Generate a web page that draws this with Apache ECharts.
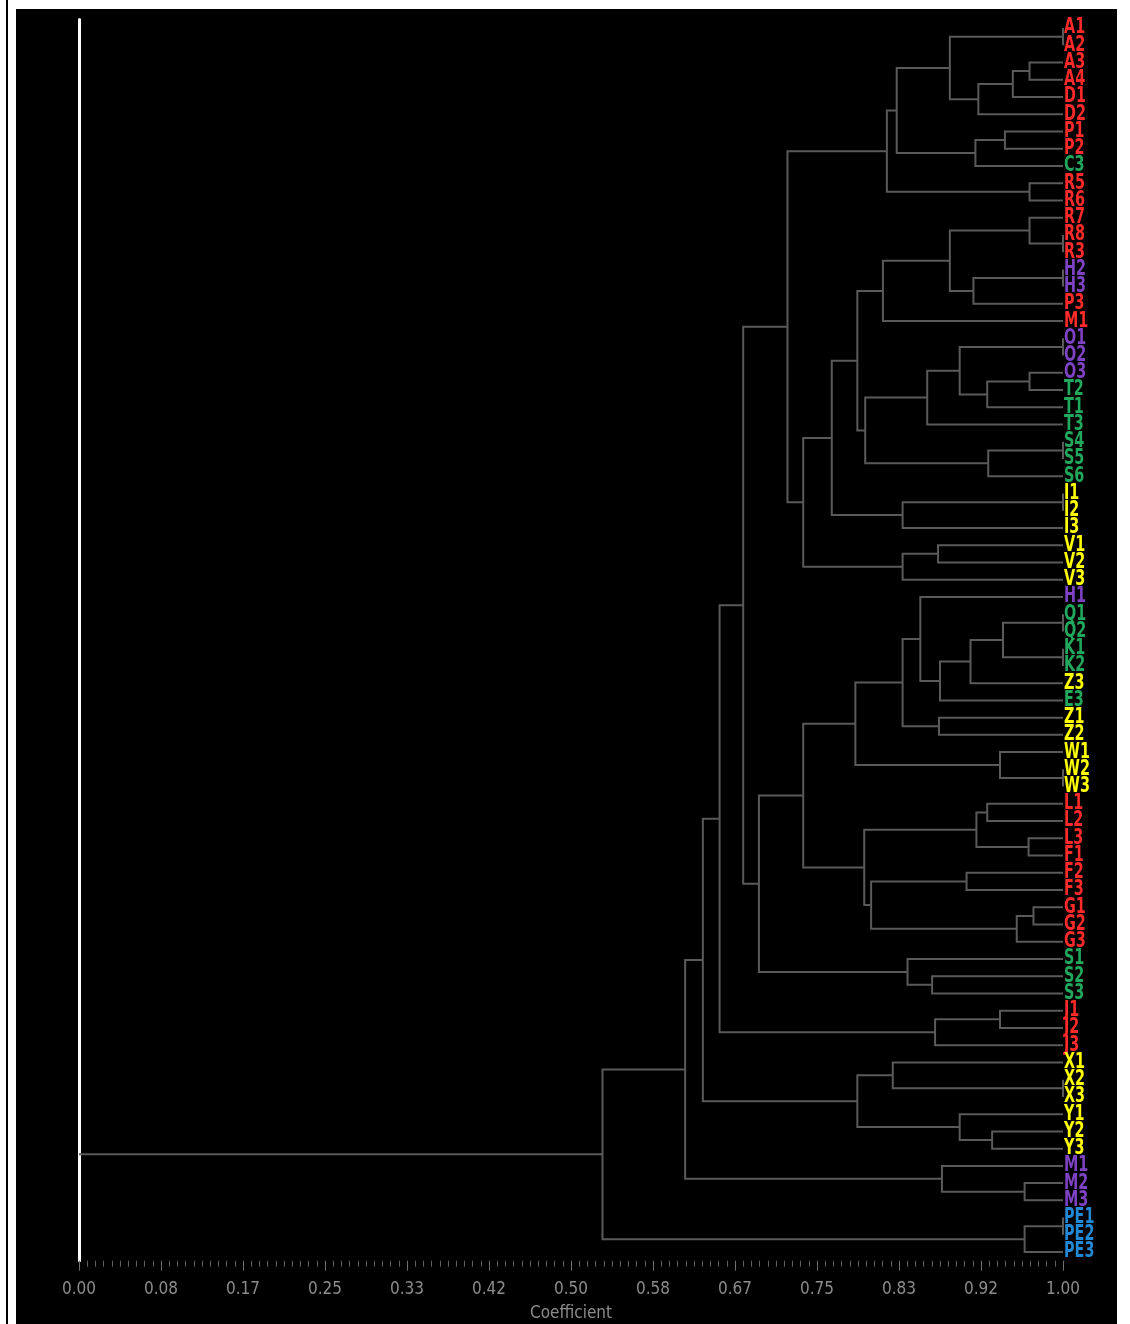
<!DOCTYPE html>
<html>
<head>
<meta charset="utf-8">
<script src="https://cdn.jsdelivr.net/npm/echarts@6/dist/echarts.min.js"></script>
<style>
html, body { margin: 0; padding: 0; background: #fff; }
#dendro { width: 1130px; height: 1324px; }
</style>
</head>
<body>
<div id="dendro"></div>
<script>
// leaves, top to bottom
var leafNames = [
  'A1', 'A2', 'A3', 'A4', 'D1', 'D2', 'P1', 'P2', 'C3', 'R5',
  'R6', 'R7', 'R8', 'R3', 'H2', 'H3', 'P3', 'M1', 'O1', 'O2',
  'O3', 'T2', 'T1', 'T3', 'S4', 'S5', 'S6', 'I1', 'I2', 'I3',
  'V1', 'V2', 'V3', 'H1', 'Q1', 'Q2', 'K1', 'K2', 'Z3', 'E3',
  'Z1', 'Z2', 'W1', 'W2', 'W3', 'L1', 'L2', 'L3', 'F1', 'F2',
  'F3', 'G1', 'G2', 'G3', 'S1', 'S2', 'S3', 'J1', 'J2', 'J3',
  'X1', 'X2', 'X3', 'Y1', 'Y2', 'Y3', 'M1', 'M2', 'M3', 'PE1',
  'PE2', 'PE3'
];
var leafGroups = [
  'r', 'r', 'r', 'r', 'r', 'r', 'r', 'r', 'g', 'r',
  'r', 'r', 'r', 'r', 'p', 'p', 'r', 'r', 'p', 'p',
  'p', 'g', 'g', 'g', 'g', 'g', 'g', 'y', 'y', 'y',
  'y', 'y', 'y', 'p', 'g', 'g', 'g', 'g', 'y', 'g',
  'y', 'y', 'y', 'y', 'y', 'r', 'r', 'r', 'r', 'r',
  'r', 'r', 'r', 'r', 'g', 'g', 'g', 'r', 'r', 'r',
  'y', 'y', 'y', 'y', 'y', 'y', 'p', 'p', 'p', 'b',
  'b', 'b'
];
var groupColors = { r: '#ff2a2a', g: '#22a85c', p: '#7e42c2', y: '#ffff00', b: '#2289d6' };

// [node, child, child, coefficient]; a number child is a leaf index
var merges = [
  ['a01', 0, 1, 1.00],
  ['a23', 2, 3, 0.966],
  ['a234', 'a23', 4, 0.949],
  ['a2345', 'a234', 5, 0.914],
  ['a05', 'a01', 'a2345', 0.885],
  ['a67', 6, 7, 0.941],
  ['a68', 'a67', 8, 0.911],
  ['a08', 'a05', 'a68', 0.831],
  ['a910', 9, 10, 0.966],
  ['a010', 'a08', 'a910', 0.821],
  ['b1213', 12, 13, 1.00],
  ['b1113', 11, 'b1213', 0.966],
  ['b1415', 14, 15, 1.00],
  ['b1416', 'b1415', 16, 0.909],
  ['b1116', 'b1113', 'b1416', 0.885],
  ['b1117', 'b1116', 17, 0.817],
  ['c1819', 18, 19, 1.00],
  ['c2021', 20, 21, 0.966],
  ['c2022', 'c2021', 22, 0.923],
  ['c1822', 'c1819', 'c2022', 0.895],
  ['c1823', 'c1822', 23, 0.862],
  ['c2425', 24, 25, 1.00],
  ['c2426', 'c2425', 26, 0.924],
  ['c1826', 'c1823', 'c2426', 0.799],
  ['b1126', 'b1117', 'c1826', 0.791],
  ['d2728', 27, 28, 1.00],
  ['d2729', 'd2728', 29, 0.837],
  ['b1129', 'b1126', 'd2729', 0.765],
  ['d3031', 30, 31, 0.873],
  ['d3032', 'd3031', 32, 0.837],
  ['b1132', 'b1129', 'd3032', 0.736],
  ['a032', 'a010', 'b1132', 0.720],
  ['e3435', 34, 35, 1.00],
  ['e3637', 36, 37, 1.00],
  ['e3437', 'e3435', 'e3637', 0.939],
  ['e3438', 'e3437', 38, 0.906],
  ['e3439', 'e3438', 39, 0.875],
  ['e3339', 33, 'e3439', 0.855],
  ['e4041', 40, 41, 0.874],
  ['e3341', 'e3339', 'e4041', 0.837],
  ['e4344', 43, 44, 1.00],
  ['e4244', 42, 'e4344', 0.936],
  ['e3344', 'e3341', 'e4244', 0.789],
  ['f4546', 45, 46, 0.923],
  ['f4748', 47, 48, 0.965],
  ['f4548', 'f4546', 'f4748', 0.912],
  ['f4950', 49, 50, 0.902],
  ['f5152', 51, 52, 0.970],
  ['f5153', 'f5152', 53, 0.953],
  ['f4953', 'f4950', 'f5153', 0.805],
  ['f4553', 'f4548', 'f4953', 0.798],
  ['e3353', 'e3344', 'f4553', 0.736],
  ['g5556', 55, 56, 0.867],
  ['g5456', 54, 'g5556', 0.842],
  ['e3356', 'e3353', 'g5456', 0.691],
  ['a056', 'a032', 'e3356', 0.675],
  ['h5758', 57, 58, 0.936],
  ['h5759', 'h5758', 59, 0.870],
  ['a059', 'a056', 'h5759', 0.651],
  ['i6162', 61, 62, 1.00],
  ['i6062', 60, 'i6162', 0.827],
  ['i6465', 64, 65, 0.928],
  ['i6365', 63, 'i6465', 0.895],
  ['i6065', 'i6062', 'i6365', 0.791],
  ['a065', 'a059', 'i6065', 0.634],
  ['j6768', 67, 68, 0.961],
  ['j6668', 66, 'j6768', 0.877],
  ['a068', 'a065', 'j6668', 0.616],
  ['k6970', 69, 70, 1.00],
  ['k6971', 'k6970', 71, 0.961],
  ['root', 'a068', 'k6971', 0.532]
];

var xTickLabels = ['0.00', '0.08', '0.17', '0.25', '0.33', '0.42', '0.50',
  '0.58', '0.67', '0.75', '0.83', '0.92', '1.00'];

// build the elbow segments from the merge list
var nodes = {};
var segs = [];
function where (c) {
  return typeof c === 'number' ? { h: 1, y: c } : nodes[c];
}
merges.forEach(function (m) {
  var a = where(m[1]);
  var b = where(m[2]);
  nodes[m[0]] = { h: m[3], y: (a.y + b.y) / 2 };
  segs.push({ coords: [[a.h, a.y], [m[3], a.y], [m[3], b.y], [b.h, b.y]] });
});
var root = nodes[merges[merges.length - 1][0]];
segs.push({ coords: [[root.h, root.y], [0, root.y]] });

var narrow = '"Liberation Sans Narrow", "DejaVu Sans Condensed", sans-serif';

var chart = echarts.init(document.getElementById('dendro'));
chart.setOption({
  animation: false,
  backgroundColor: 'transparent',
  graphic: [
    { type: 'rect', z: -100, shape: { x: 16, y: 9, width: 1101, height: 1320 }, style: { fill: '#000' } },
    { type: 'rect', z: -100, shape: { x: 6, y: 0, width: 2, height: 1324 }, style: { fill: '#000' } }
  ],
  grid: { left: 79, right: 67, top: 19.4, bottom: 63.3, containLabel: false, outerBoundsMode: 'none' },
  xAxis: {
    type: 'value',
    min: 0,
    max: 1,
    interval: 1 / 12,
    axisLine: { show: false, onZero: false },
    axisTick: { show: true, length: 10, lineStyle: { color: '#6e6e6e', width: 1 } },
    minorTick: { show: true, splitNumber: 10, length: 6, lineStyle: { color: '#5e5e5e' } },
    splitLine: { show: false },
    axisLabel: {
      color: '#8c8c8c',
      fontFamily: narrow,
      fontSize: 17,
      margin: 20,
      formatter: function (v) { return xTickLabels[Math.round(v * 12)]; }
    },
    name: 'Coefficient',
    nameLocation: 'middle',
    nameGap: 44,
    nameTextStyle: { color: '#8c8c8c', fontFamily: narrow, fontSize: 17 }
  },
  yAxis: {
    type: 'value',
    inverse: true,
    min: -0.5,
    max: 71.5,
    axisLine: { show: true, onZero: false, lineStyle: { color: '#ffffff', width: 3 } },
    axisTick: { show: false },
    axisLabel: { show: false },
    splitLine: { show: false }
  },
  series: [
    {
      type: 'lines',
      coordinateSystem: 'cartesian2d',
      polyline: true,
      silent: true,
      lineStyle: { color: '#5a5a5a', width: 2, opacity: 1 },
      data: segs
    },
    {
      type: 'custom',
      coordinateSystem: 'cartesian2d',
      clip: false,
      z: 5,
      data: leafNames.map(function (n, i) { return [1, i]; }),
      renderItem: function (params, api) {
        var p = api.coord([api.value(0), api.value(1)]);
        var i = params.dataIndex;
        return {
          type: 'text',
          x: p[0] + 1,
          y: p[1],
          scaleY: 1.3,
          style: {
            text: leafNames[i],
            fill: groupColors[leafGroups[i]],
            font: 'bold 16px ' + narrow,
            align: 'left',
            verticalAlign: 'middle'
          }
        };
      }
    }
  ]
});
</script>
</body>
</html>
